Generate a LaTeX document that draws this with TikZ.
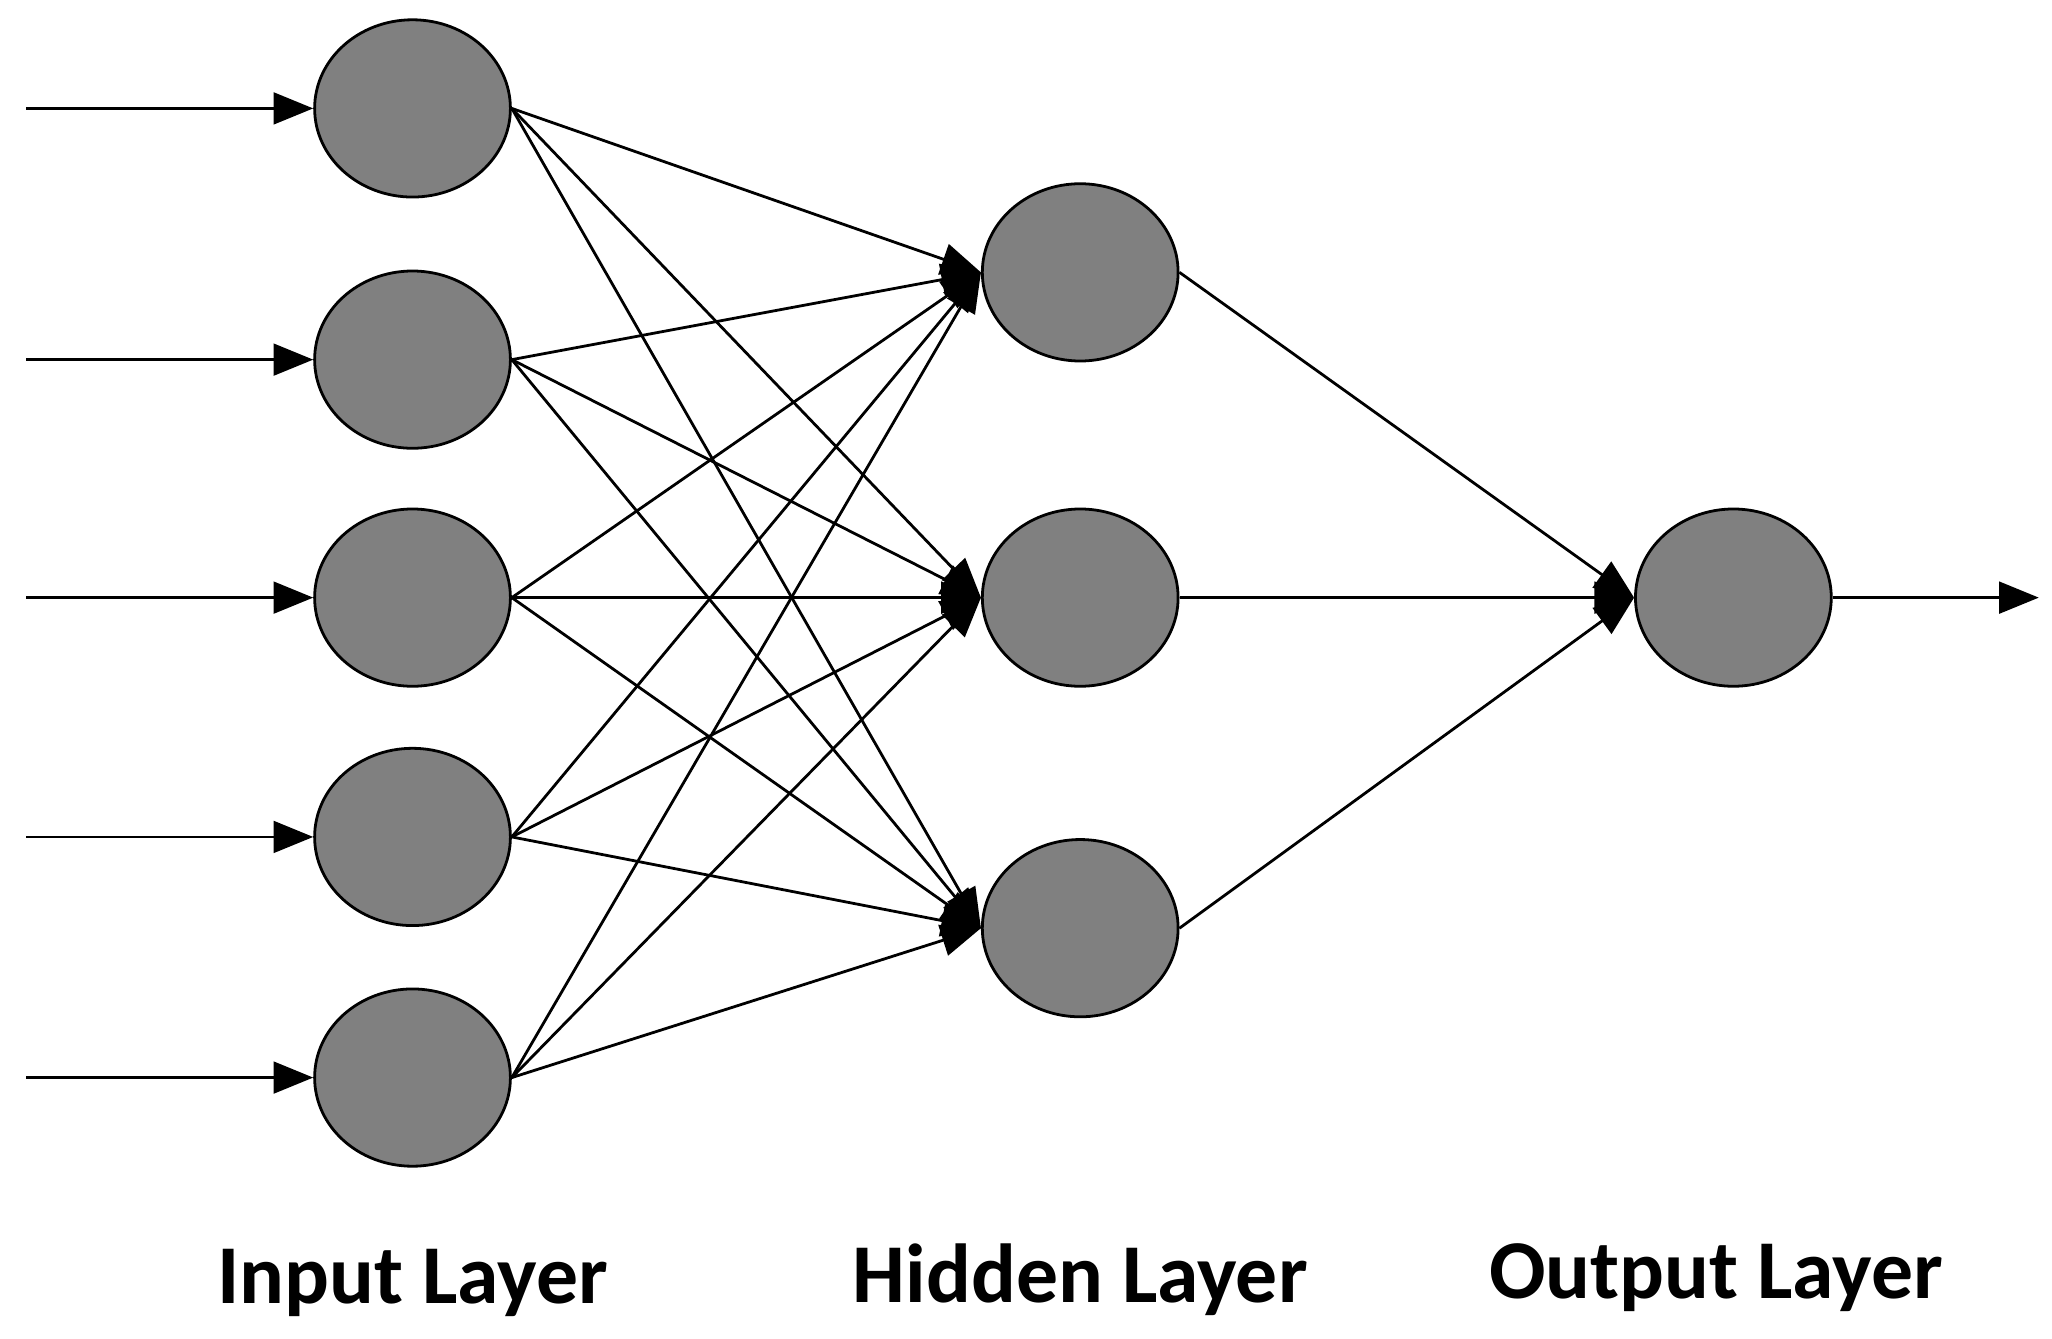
\documentclass[tikz,border=0pt]{standalone}
\usepackage{fontspec}
\setmainfont{Carlito}
\usetikzlibrary{arrows.meta,shapes.geometric}
\begin{document}
\begin{tikzpicture}[x=0.01cm,y=-0.01cm,
  neuron/.style={ellipse,draw=black,fill={rgb,255:red,128;green,128;blue,128},minimum width=1.48cm,minimum height=1.34cm,inner sep=0pt,line width=0.6pt},
  conn/.style={line width=0.6pt,-{Triangle[length=0.3cm,width=0.24cm]}},
  lab/.style={font=\fontsize{18}{21}\selectfont\bfseries}]
\useasboundingbox (0,0) rectangle (1552,1012);
\foreach \i/\y in {1/82,2/272,3/452,4/633,5/815}{
  \node[neuron] (i\i) at (312,\y) {};
  \coordinate (s\i) at (20,\y);
  \draw[conn] (s\i) -- (i\i);
}
\foreach \j/\y in {1/206,2/452,3/702}{
  \node[neuron] (h\j) at (817,\y) {};
}
\node[neuron] (o) at (1311,452) {};
\coordinate (e) at (1542,452);
\foreach \i in {1,...,5}{\foreach \j in {1,2,3}{\draw[conn] (i\i.east) -- (h\j.west);}}
\foreach \j in {1,2,3}{\draw[conn] (h\j.east) -- (o.west);}
\draw[conn] (o) -- (e);
\node[lab] (l1) at (312,970) {Input Layer};
\node[lab] (l2) at (817,968) {Hidden Layer};
\node[lab] (l3) at (1298,966) {Output Layer};
\end{tikzpicture}
\end{document}
